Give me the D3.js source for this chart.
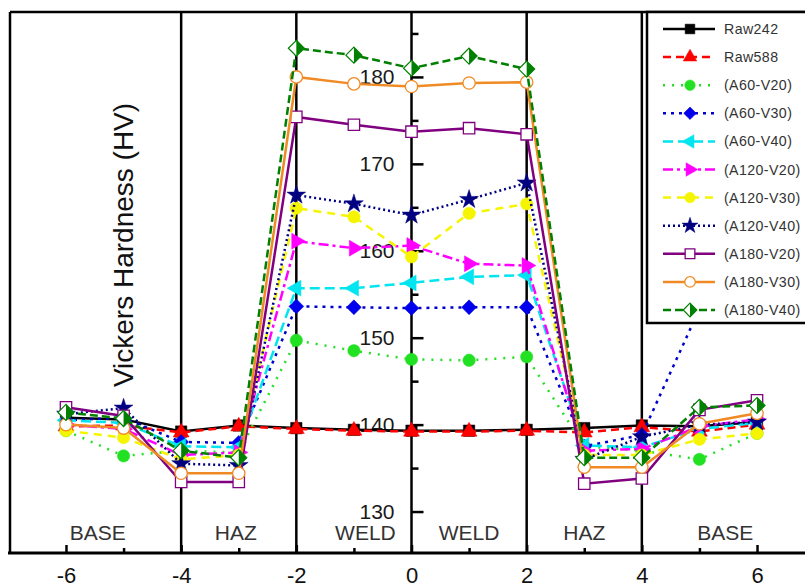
<!DOCTYPE html>
<html>
<head>
<meta charset="utf-8">
<script src="https://cdn.jsdelivr.net/npm/d3@7"></script>
<style>
  body { margin: 0; background: #fff; }
  svg { display: block; font-family: "Liberation Sans", Arial, sans-serif; }
</style>
</head>
<body>
<div id="chart"></div>
<script>
// measurement positions (distance from weld centre)
const positions = [-6, -5, -4, -3, -2, -1, 0, 1, 2, 3, 4, 5, 6];

const raw242   = [140.8, 140.6, 139.2, 139.9, 139.6, 139.4, 139.3, 139.3, 139.4, 139.6, 139.9, 139.8, 140.3];
const raw588   = [139.8, 139.9, 139.1, 139.8, 139.5, 139.3, 139.2, 139.2, 139.3, 139.1, 139.7, 139.2, 140.0];
const a60v20   = [139.3, 136.4, 137.0, 136.8, 149.7, 148.5, 147.5, 147.4, 147.8, 137.5, 137.0, 136.0, 139.0];
const a60v30   = [140.5, 140.8, 138.0, 137.9, 153.6, 153.5, 153.4, 153.5, 153.5, 137.5, 138.8, 153.3, 153.3];
const a60v40   = [140.5, 140.2, 137.5, 137.4, 155.7, 155.7, 156.3, 157.0, 157.2, 137.6, 137.4, 139.5, 140.2];
const a120v20  = [140.0, 139.5, 136.5, 136.8, 161.1, 160.3, 160.6, 158.5, 158.3, 137.0, 137.2, 139.8, 140.6];
const a120v30  = [139.3, 138.5, 136.0, 136.5, 164.9, 163.9, 159.3, 164.3, 165.4, 136.5, 136.5, 138.3, 139.0];
const a120v40  = [141.2, 141.9, 135.5, 135.3, 166.4, 165.4, 164.1, 165.9, 167.8, 136.0, 138.6, 140.0, 140.3];
const a180v20  = [142.0, 141.0, 133.4, 133.4, 175.4, 174.5, 173.7, 174.1, 173.4, 133.2, 133.8, 141.7, 142.8];
const a180v30  = [140.0, 139.6, 134.4, 134.4, 180.0, 179.2, 178.9, 179.3, 179.4, 135.1, 135.1, 140.1, 141.3];
const a180v40  = [141.4, 140.7, 137.0, 136.2, 183.3, 182.5, 181.0, 182.4, 180.9, 136.2, 136.2, 142.0, 142.2];

const xTicks = [-6, -4, -2, 0, 2, 4, 6];
const xMinorTicks = [-5, -3, -1, 1, 3, 5];
const yTicks = [130, 140, 150, 160, 170, 180];
const yMinorTicks = [135, 145, 155, 165, 175, 185];
const zoneLines = [-4, -2, 0, 2, 4];
const zoneLabels = [
  { x: -5.45, text: "BASE" }, { x: -3.05, text: "HAZ" }, { x: -0.8, text: "WELD" },
  { x: 1.0, text: "WELD" }, { x: 3.0, text: "HAZ" }, { x: 5.45, text: "BASE" }
];

const series = [
  { name: "Raw242",     values: raw242,  color: "#000000", dash: null,        marker: "square",   fill: "#000000" },
  { name: "Raw588",     values: raw588,  color: "#ff0000", dash: "8,5",       marker: "triUp",    fill: "#ff0000" },
  { name: "(A60-V20)",  values: a60v20,  color: "#22e022", dash: "2,7",       marker: "circle",   fill: "#22e022" },
  { name: "(A60-V30)",  values: a60v30,  color: "#0000cc", dash: "3,5",       marker: "diamond",  fill: "#0000ee" },
  { name: "(A60-V40)",  values: a60v40,  color: "#00e5ef", dash: "10,5",      marker: "triLeft",  fill: "#00e5ef" },
  { name: "(A120-V20)", values: a120v20, color: "#ff00ff", dash: "10,4,3,4",  marker: "triRight", fill: "#ff00ff" },
  { name: "(A120-V30)", values: a120v30, color: "#f5f500", dash: "8,6",       marker: "circle",   fill: "#f5f500" },
  { name: "(A120-V40)", values: a120v40, color: "#000080", dash: "2,3",       marker: "star",     fill: "#000080" },
  { name: "(A180-V20)", values: a180v20, color: "#800080", dash: null,        marker: "square",   fill: "#ffffff" },
  { name: "(A180-V30)", values: a180v30, color: "#f08a24", dash: null,        marker: "circle",   fill: "#ffffff" },
  { name: "(A180-V40)", values: a180v40, color: "#008000", dash: "8,4",       marker: "halfDiamond", fill: "#008000" }
];

const width = 805, height = 587;

const svg = d3.select("#chart").append("svg")
  .attr("width", width)
  .attr("height", height);

const x = d3.scaleLinear().domain([-7, 7]).range([8.4, 814.6]);
const y = d3.scaleLinear().domain([125, 190]).range([555, -10]);

const axisY = 553, topY = 12, leftX = 10;

// frame: top and left border
svg.append("line")
  .attr("x1", leftX).attr("x2", width).attr("y1", topY).attr("y2", topY)
  .attr("stroke", "#000").attr("stroke-width", 2.5);
svg.append("line")
  .attr("x1", leftX).attr("x2", leftX).attr("y1", topY).attr("y2", axisY)
  .attr("stroke", "#000").attr("stroke-width", 2.5);

// zone separators
svg.selectAll(".zone")
  .data(zoneLines)
  .join("line")
  .attr("x1", d => x(d)).attr("x2", d => x(d))
  .attr("y1", topY).attr("y2", axisY)
  .attr("stroke", "#000").attr("stroke-width", 2.5);

// y axis sits on x = 0
const yAxis = svg.append("g")
  .attr("transform", `translate(${x(0)},0)`)
  .call(d3.axisLeft(y).tickValues(yTicks).tickSizeInner(-12).tickSizeOuter(0).tickPadding(17));
yAxis.select(".domain").remove();
yAxis.selectAll("line").attr("stroke", "#000").attr("stroke-width", 2.5);
yAxis.selectAll("text").attr("fill", "#1a1a1a").style("font-size", "21px")
  .style("font-family", "'Liberation Sans', Arial, sans-serif");

const yMinor = svg.append("g")
  .attr("transform", `translate(${x(0)},0)`)
  .call(d3.axisLeft(y).tickValues(yMinorTicks).tickSizeInner(-7).tickSizeOuter(0).tickFormat(""));
yMinor.select(".domain").remove();
yMinor.selectAll("line").attr("stroke", "#000").attr("stroke-width", 2.5);

// x axis
const xAxis = svg.append("g")
  .attr("transform", `translate(0,${axisY})`)
  .call(d3.axisBottom(x).tickValues(xTicks).tickFormat(d => String(d))
    .tickSizeInner(-8).tickSizeOuter(0).tickPadding(14));
xAxis.select(".domain").remove();
xAxis.selectAll("line").attr("stroke", "#000").attr("stroke-width", 2.5);
xAxis.selectAll("text").attr("fill", "#111").style("font-size", "22px")
  .style("font-family", "'Liberation Sans', Arial, sans-serif");

const xMinor = svg.append("g")
  .attr("transform", `translate(0,${axisY})`)
  .call(d3.axisBottom(x).tickValues(xMinorTicks).tickSizeInner(-5).tickSizeOuter(0).tickFormat(""));
xMinor.select(".domain").remove();
xMinor.selectAll("line").attr("stroke", "#000").attr("stroke-width", 2.5);

svg.append("line")
  .attr("x1", 8).attr("x2", width).attr("y1", axisY).attr("y2", axisY)
  .attr("stroke", "#000").attr("stroke-width", 3);

// zone names
svg.selectAll(".zoneLabel")
  .data(zoneLabels)
  .join("text")
  .attr("x", d => x(d.x))
  .attr("y", 540)
  .attr("text-anchor", "middle")
  .attr("fill", "#333")
  .style("font-size", "21px")
  .text(d => d.text);

// y label
svg.append("text")
  .attr("transform", "translate(123,245) rotate(-90)")
  .attr("text-anchor", "middle")
  .attr("dy", "0.35em")
  .attr("fill", "#111")
  .style("font-size", "28px")
  .text("Vickers Hardness (HV)");

// marker drawing
function drawMarker(g, s, scale) {
  const k = scale || 1;
  if (s.marker === "halfDiamond") {
    const r = 8 * k;
    g.append("path")
      .attr("d", `M0,${-r}L${r},0L0,${r}L${-r},0Z`)
      .attr("fill", "#fff").attr("stroke", s.color).attr("stroke-width", 1.2);
    g.append("path")
      .attr("d", `M0,${-r}L${r},0L0,${r}Z`)
      .attr("fill", s.fill);
    return;
  }
  let type, size, rot = 0;
  switch (s.marker) {
    case "square":   type = d3.symbolSquare;   size = 130; break;
    case "triUp":    type = d3.symbolTriangle; size = 110; break;
    case "triLeft":  type = d3.symbolTriangle; size = 110; rot = -90; break;
    case "triRight": type = d3.symbolTriangle; size = 110; rot = 90; break;
    case "circle":   type = d3.symbolCircle;   size = 120; break;
    case "diamond":  type = d3.symbolSquare;   size = 110; rot = 45; break;
    case "star":     type = d3.symbolStar;     size = 110; break;
  }
  g.append("path")
    .attr("d", d3.symbol().type(type).size(size * k * k)())
    .attr("transform", `rotate(${rot})`)
    .attr("fill", s.fill)
    .attr("stroke", s.color)
    .attr("stroke-width", s.fill === "#ffffff" ? 1.3 : 0.5);
}

const line = d3.line()
  .x((d, i) => x(positions[i]))
  .y(d => y(d));

const plot = svg.append("g");
series.forEach(s => {
  plot.append("path")
    .attr("d", line(s.values))
    .attr("fill", "none")
    .attr("stroke", s.color)
    .attr("stroke-width", 2.5)
    .attr("stroke-dasharray", s.dash);
  s.values.forEach((v, i) => {
    const g = plot.append("g").attr("transform", `translate(${x(positions[i])},${y(v)})`);
    drawMarker(g, s, 1);
  });
});

// legend
const legend = svg.append("g");
legend.append("rect")
  .attr("x", 647).attr("y", topY)
  .attr("width", 170).attr("height", 311)
  .attr("fill", "#fff").attr("stroke", "#000").attr("stroke-width", 2.5);

series.forEach((s, i) => {
  const ly = 29 + i * 28.1;
  const row = legend.append("g").attr("transform", `translate(0,${ly})`);
  row.append("line")
    .attr("x1", 663).attr("x2", 715)
    .attr("stroke", s.color).attr("stroke-width", 2.5)
    .attr("stroke-dasharray", s.dash);
  const m = row.append("g").attr("transform", "translate(690,0)");
  drawMarker(m, s, 0.85);
  row.append("text")
    .attr("x", 724).attr("y", 5)
    .attr("fill", "#333")
    .style("font-size", "14.2px")
    .style("letter-spacing", "0.4px")
    .text(s.name);
});
</script>
</body>
</html>
